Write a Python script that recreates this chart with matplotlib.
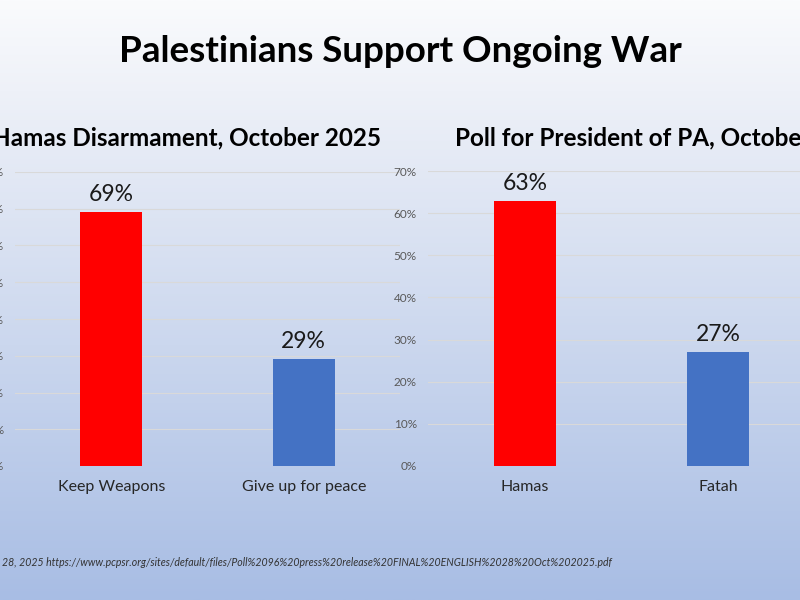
import numpy as np
import matplotlib
matplotlib.use("Agg")
import matplotlib.pyplot as plt
from matplotlib.colors import LinearSegmentedColormap
from matplotlib.ticker import PercentFormatter

plt.rcParams['font.family'] = ['Lato', 'DejaVu Sans']

# data
disarm_cats = ["Keep Weapons", "Give up for peace"]
disarm_vals = [0.69, 0.29]
pres_cats = ["Hamas", "Fatah"]
pres_vals = [0.63, 0.27]
bar_colors = ["#ff0000", "#4472c4"]

main_title = "Palestinians Support Ongoing War"
left_title = "Hamas Disarmament, October 2025"
right_title = "Poll for President of PA, October 2025"
source = ("Source: PCPSR, October 28, 2025 https://www.pcpsr.org/sites/default/files/"
          "Poll%2096%20press%20release%20FINAL%20ENGLISH%2028%20Oct%202025.pdf")

W, H = 800, 600
fig = plt.figure(figsize=(8, 6), dpi=100)

# slide background: white at top fading to light blue
bg = fig.add_axes([0, 0, 1, 1], zorder=-10)
cmap = LinearSegmentedColormap.from_list(
    "slide", [(0, "#fafbfd"), (0.15, "#eef1f8"), (1, "#a8bde4")])
bg.imshow(np.linspace(0, 1, 256).reshape(-1, 1), aspect="auto", cmap=cmap,
          extent=[0, 1, 0, 1])
bg.axis("off")


def px(x0, y0, x1, y1):
    # pixel box (top-left origin) -> figure fraction rect
    return [x0 / W, 1 - y1 / H, (x1 - x0) / W, (y1 - y0) / H]


def bar_panel(rect, cats, vals, ymax):
    ax = fig.add_axes(rect)
    ax.patch.set_alpha(0)
    x = np.arange(len(cats))
    bars = ax.bar(x, vals, width=0.32, color=bar_colors, zorder=3)
    ax.set_xlim(-0.5, len(cats) - 0.5)
    ax.set_ylim(0, ymax)
    ax.set_yticks(np.arange(0, ymax + 0.001, 0.1))
    ax.yaxis.set_major_formatter(PercentFormatter(1.0, decimals=0))
    ax.grid(axis="y", color="#d9d9d9", lw=0.8, zorder=0)
    for s in ax.spines.values():
        s.set_visible(False)
    ax.tick_params(length=0)
    ax.tick_params(axis="y", labelsize=8.5, labelcolor="#595959", pad=8)
    ax.set_xticks(x, cats)
    ax.tick_params(axis="x", labelsize=11.5, labelcolor="#262626", pad=10)
    for b, v in zip(bars, vals):
        ax.annotate(f"{round(v * 100)}%", (b.get_x() + b.get_width() / 2, v),
                    xytext=(0, 5), textcoords="offset points",
                    ha="center", va="bottom", fontsize=16.5, color="#1a1a1a")
    return ax


bar_panel(px(15, 172, 400, 466), disarm_cats, disarm_vals, 0.8)
bar_panel(px(428, 171, 815, 466), pres_cats, pres_vals, 0.7)

fig.text(400 / W, 1 - 52 / H, main_title, ha="center", va="center",
         fontsize=26.5, fontweight="bold", color="black")
fig.text(381 / W, 1 - 138 / H, left_title, ha="right", va="center",
         fontsize=17.5, fontweight="bold", color="black")
fig.text(455 / W, 1 - 138 / H, right_title, ha="left", va="center",
         fontsize=17.5, fontweight="bold", color="black")
fig.text(612 / W, 1 - 563 / H, source, ha="right", va="center",
         fontsize=7.6, style="italic", color="#333333")

fig.savefig("out.png", dpi=100)
